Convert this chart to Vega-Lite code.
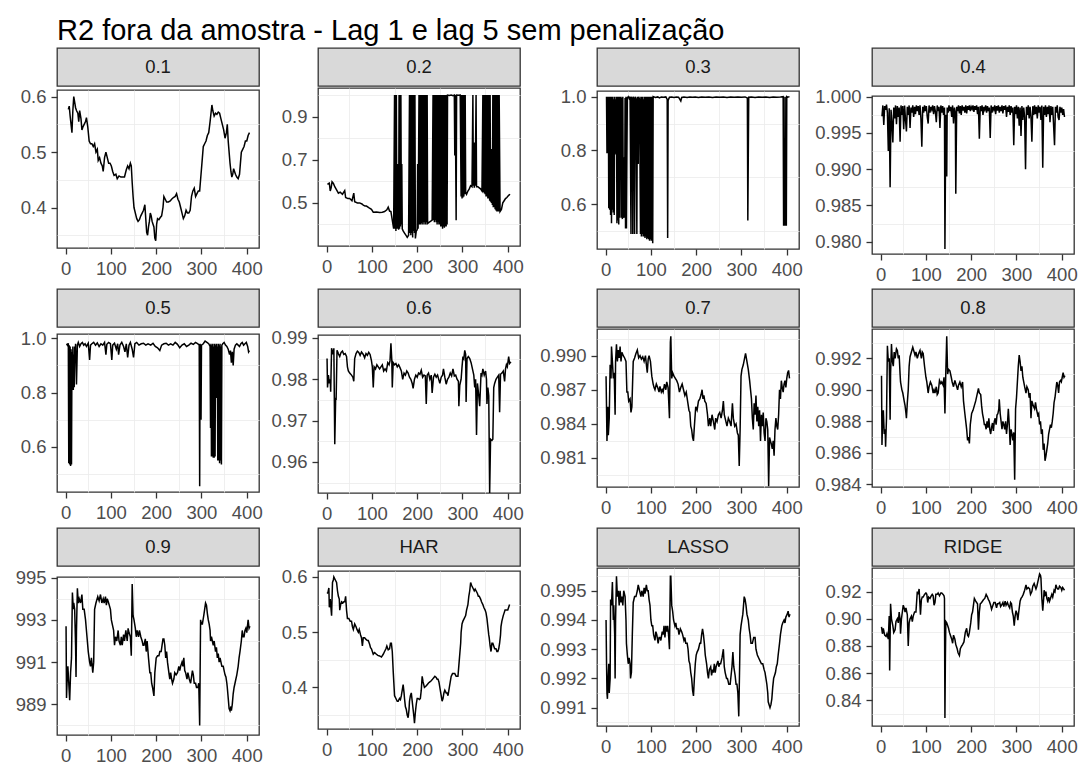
{
"$schema": "https://vega.github.io/schema/vega-lite/v6.json",
"padding": {"left": 14, "top": 17, "right": 5, "bottom": 0},
"title": {"text": "R2 fora da amostra - Lag 1 e lag 5 sem penalização", "anchor": "start", "frame": "group", "fontSize": 29, "fontWeight": "normal", "color": "#000000", "font": "Liberation Sans", "offset": 1},
"columns": 4,
"align": "each",
"spacing": {"row": 3, "column": 7},
"concat": [
{"spacing": 0, "vconcat": [
 {"width": 202, "height": 38, "view": {"fill": "#D9D9D9", "stroke": "#333333", "strokeWidth": 1.3}, "data": {"values": [{"lab": "0.1"}]}, "mark": {"type": "text", "fontSize": 18.5, "color": "#1A1A1A", "baseline": "middle"}, "encoding": {"text": {"field": "lab"}}},
 {"width": 202, "height": 158,
  "data": {"values": [{"t":6,"v":0.577},{"t":8,"v":0.583},{"t":10,"v":0.565},{"t":12,"v":0.55},{"t":14,"v":0.535},{"t":16,"v":0.575},{"t":18,"v":0.6},{"t":20,"v":0.59},{"t":22,"v":0.58},{"t":24,"v":0.575},{"t":27,"v":0.57},{"t":29,"v":0.555},{"t":31,"v":0.575},{"t":34,"v":0.56},{"t":36,"v":0.54},{"t":38,"v":0.545},{"t":41,"v":0.55},{"t":44,"v":0.555},{"t":46,"v":0.562},{"t":49,"v":0.545},{"t":52,"v":0.52},{"t":55,"v":0.515},{"t":58,"v":0.515},{"t":61,"v":0.51},{"t":64,"v":0.515},{"t":67,"v":0.5},{"t":70,"v":0.505},{"t":72,"v":0.485},{"t":75,"v":0.49},{"t":78,"v":0.48},{"t":81,"v":0.475},{"t":83,"v":0.465},{"t":86,"v":0.49},{"t":89,"v":0.5},{"t":92,"v":0.49},{"t":95,"v":0.48},{"t":98,"v":0.48},{"t":101,"v":0.475},{"t":104,"v":0.465},{"t":107,"v":0.458},{"t":111,"v":0.46},{"t":114,"v":0.452},{"t":118,"v":0.457},{"t":122,"v":0.455},{"t":126,"v":0.455},{"t":130,"v":0.455},{"t":134,"v":0.468},{"t":137,"v":0.475},{"t":140,"v":0.47},{"t":143,"v":0.48},{"t":145,"v":0.475},{"t":147,"v":0.445},{"t":149,"v":0.42},{"t":151,"v":0.4},{"t":154,"v":0.39},{"t":157,"v":0.38},{"t":160,"v":0.375},{"t":163,"v":0.378},{"t":166,"v":0.385},{"t":169,"v":0.39},{"t":172,"v":0.395},{"t":175,"v":0.405},{"t":177,"v":0.38},{"t":179,"v":0.355},{"t":181,"v":0.35},{"t":183,"v":0.365},{"t":185,"v":0.375},{"t":187,"v":0.39},{"t":189,"v":0.385},{"t":191,"v":0.375},{"t":193,"v":0.37},{"t":195,"v":0.365},{"t":197,"v":0.345},{"t":199,"v":0.34},{"t":201,"v":0.37},{"t":203,"v":0.38},{"t":206,"v":0.378},{"t":209,"v":0.382},{"t":212,"v":0.385},{"t":215,"v":0.4},{"t":217,"v":0.42},{"t":220,"v":0.415},{"t":223,"v":0.41},{"t":227,"v":0.41},{"t":231,"v":0.412},{"t":234,"v":0.415},{"t":238,"v":0.418},{"t":242,"v":0.42},{"t":245,"v":0.425},{"t":248,"v":0.415},{"t":251,"v":0.41},{"t":254,"v":0.4},{"t":257,"v":0.39},{"t":260,"v":0.38},{"t":263,"v":0.385},{"t":266,"v":0.395},{"t":269,"v":0.39},{"t":272,"v":0.39},{"t":275,"v":0.395},{"t":278,"v":0.42},{"t":281,"v":0.43},{"t":284,"v":0.435},{"t":287,"v":0.42},{"t":290,"v":0.425},{"t":293,"v":0.43},{"t":296,"v":0.43},{"t":298,"v":0.45},{"t":300,"v":0.47},{"t":302,"v":0.49},{"t":304,"v":0.51},{"t":307,"v":0.515},{"t":310,"v":0.52},{"t":313,"v":0.53},{"t":316,"v":0.535},{"t":319,"v":0.555},{"t":321,"v":0.57},{"t":323,"v":0.585},{"t":325,"v":0.575},{"t":328,"v":0.565},{"t":331,"v":0.57},{"t":334,"v":0.568},{"t":337,"v":0.572},{"t":340,"v":0.57},{"t":343,"v":0.56},{"t":346,"v":0.55},{"t":349,"v":0.54},{"t":352,"v":0.525},{"t":355,"v":0.535},{"t":357,"v":0.55},{"t":359,"v":0.52},{"t":361,"v":0.5},{"t":363,"v":0.48},{"t":365,"v":0.465},{"t":367,"v":0.455},{"t":369,"v":0.46},{"t":371,"v":0.47},{"t":373,"v":0.465},{"t":375,"v":0.46},{"t":378,"v":0.455},{"t":381,"v":0.452},{"t":384,"v":0.46},{"t":386,"v":0.48},{"t":388,"v":0.5},{"t":391,"v":0.505},{"t":394,"v":0.51},{"t":397,"v":0.52},{"t":400,"v":0.52},{"t":403,"v":0.53},{"t":406,"v":0.535}]},
  "layer": [
   {"mark": {"type": "line", "strokeOpacity": 0}, "encoding": {"x": {"field": "t", "type": "quantitative", "scale": {"domain": [-19, 427], "nice": false, "zero": false}, "axis": {"orient": "bottom", "values": [50,150,250,350], "grid": true, "gridWidth": 0.8, "labels": false, "ticks": false, "domain": false, "minExtent": 0, "maxExtent": 0}}, "y": {"field": "v", "type": "quantitative", "scale": {"domain": [0.327, 0.612], "nice": false, "zero": false}, "axis": {"orient": "left", "values": [0.35,0.45,0.55], "grid": true, "gridWidth": 0.8, "labels": false, "ticks": false, "domain": false, "minExtent": 0, "maxExtent": 0}}}},
   {"mark": {"type": "line", "color": "#000000", "strokeWidth": 1.5}, "encoding": {"x": {"field": "t", "type": "quantitative", "scale": {"domain": [-19, 427], "nice": false, "zero": false}, "axis": {"orient": "bottom", "values": [0,100,200,300,400], "format": "d"}}, "y": {"field": "v", "type": "quantitative", "scale": {"domain": [0.327, 0.612], "nice": false, "zero": false}, "axis": {"orient": "left", "values": [0.4,0.5,0.6], "format": ".1f"}}}}
  ],
  "resolve": {"axis": {"x": "independent", "y": "independent"}}}
]},
{"spacing": 0, "vconcat": [
 {"width": 202, "height": 38, "view": {"fill": "#D9D9D9", "stroke": "#333333", "strokeWidth": 1.3}, "data": {"values": [{"lab": "0.2"}]}, "mark": {"type": "text", "fontSize": 18.5, "color": "#1A1A1A", "baseline": "middle"}, "encoding": {"text": {"field": "lab"}}},
 {"width": 202, "height": 158,
  "data": {"values": [{"t":2,"v":0.585},{"t":4,"v":0.59},{"t":6,"v":0.592},{"t":8,"v":0.555},{"t":10,"v":0.57},{"t":12,"v":0.598},{"t":15,"v":0.59},{"t":18,"v":0.575},{"t":22,"v":0.56},{"t":26,"v":0.545},{"t":30,"v":0.55},{"t":35,"v":0.54},{"t":40,"v":0.557},{"t":42,"v":0.525},{"t":47,"v":0.52},{"t":51,"v":0.52},{"t":56,"v":0.51},{"t":60,"v":0.545},{"t":62,"v":0.505},{"t":68,"v":0.5},{"t":73,"v":0.5},{"t":78,"v":0.495},{"t":81,"v":0.49},{"t":85,"v":0.485},{"t":88,"v":0.485},{"t":93,"v":0.478},{"t":99,"v":0.47},{"t":103,"v":0.457},{"t":110,"v":0.458},{"t":117,"v":0.455},{"t":123,"v":0.457},{"t":128,"v":0.46},{"t":133,"v":0.468},{"t":136,"v":0.48},{"t":139,"v":0.462},{"t":142,"v":0.46},{"t":145,"v":0.42},{"t":148,"v":0.38},{"t":150,"v":1.0},{"t":151,"v":0.38},{"t":152,"v":1.0},{"t":153,"v":0.37},{"t":154,"v":1.0},{"t":155,"v":0.38},{"t":156,"v":0.68},{"t":157,"v":0.38},{"t":158,"v":0.68},{"t":159,"v":0.375},{"t":160,"v":1.0},{"t":161,"v":0.38},{"t":162,"v":1.0},{"t":163,"v":0.39},{"t":164,"v":1.0},{"t":165,"v":0.4},{"t":166,"v":0.68},{"t":167,"v":0.38},{"t":169,"v":0.37},{"t":172,"v":0.36},{"t":175,"v":0.35},{"t":178,"v":0.34},{"t":181,"v":0.35},{"t":183,"v":1.0},{"t":184,"v":0.36},{"t":185,"v":1.0},{"t":186,"v":0.35},{"t":187,"v":1.0},{"t":188,"v":0.36},{"t":189,"v":1.0},{"t":190,"v":0.34},{"t":191,"v":1.0},{"t":192,"v":0.37},{"t":193,"v":1.0},{"t":194,"v":0.36},{"t":195,"v":1.0},{"t":196,"v":0.335},{"t":198,"v":0.37},{"t":200,"v":0.375},{"t":201,"v":0.68},{"t":202,"v":0.38},{"t":204,"v":1.0},{"t":205,"v":0.4},{"t":206,"v":1.0},{"t":207,"v":0.4},{"t":208,"v":1.0},{"t":209,"v":0.405},{"t":210,"v":1.0},{"t":211,"v":0.4},{"t":212,"v":1.0},{"t":213,"v":0.41},{"t":214,"v":1.0},{"t":215,"v":0.4},{"t":216,"v":1.0},{"t":217,"v":0.41},{"t":218,"v":1.0},{"t":219,"v":0.4},{"t":220,"v":1.0},{"t":221,"v":0.41},{"t":222,"v":1.0},{"t":223,"v":0.405},{"t":226,"v":0.41},{"t":230,"v":0.415},{"t":233,"v":0.42},{"t":235,"v":1.0},{"t":236,"v":0.42},{"t":237,"v":1.0},{"t":238,"v":0.41},{"t":239,"v":1.0},{"t":240,"v":0.42},{"t":241,"v":1.0},{"t":242,"v":0.41},{"t":243,"v":1.0},{"t":244,"v":0.4},{"t":245,"v":1.0},{"t":246,"v":0.41},{"t":247,"v":1.0},{"t":248,"v":0.4},{"t":249,"v":1.0},{"t":250,"v":0.4},{"t":251,"v":1.0},{"t":252,"v":0.39},{"t":253,"v":1.0},{"t":254,"v":0.39},{"t":255,"v":1.0},{"t":256,"v":0.38},{"t":257,"v":1.0},{"t":258,"v":0.39},{"t":259,"v":1.0},{"t":260,"v":0.385},{"t":261,"v":1.0},{"t":262,"v":0.39},{"t":263,"v":1.0},{"t":264,"v":0.39},{"t":265,"v":1.0},{"t":266,"v":0.4},{"t":267,"v":1.0},{"t":271,"v":0.998},{"t":275,"v":1.0},{"t":279,"v":0.997},{"t":282,"v":1.0},{"t":283,"v":0.72},{"t":284,"v":1.0},{"t":286,"v":0.42},{"t":287,"v":1.0},{"t":291,"v":0.999},{"t":295,"v":1.0},{"t":297,"v":0.53},{"t":298,"v":1.0},{"t":299,"v":0.52},{"t":300,"v":1.0},{"t":301,"v":0.525},{"t":302,"v":1.0},{"t":303,"v":0.53},{"t":304,"v":1.0},{"t":305,"v":0.54},{"t":306,"v":1.0},{"t":307,"v":0.55},{"t":309,"v":0.54},{"t":312,"v":0.555},{"t":315,"v":0.565},{"t":318,"v":0.58},{"t":321,"v":0.575},{"t":323,"v":1.0},{"t":324,"v":0.58},{"t":325,"v":0.78},{"t":326,"v":0.57},{"t":327,"v":0.78},{"t":328,"v":0.58},{"t":329,"v":0.78},{"t":330,"v":1.0},{"t":331,"v":0.575},{"t":334,"v":0.575},{"t":337,"v":0.57},{"t":340,"v":0.565},{"t":343,"v":0.555},{"t":345,"v":1.0},{"t":346,"v":0.55},{"t":347,"v":1.0},{"t":348,"v":0.545},{"t":349,"v":1.0},{"t":350,"v":0.54},{"t":351,"v":1.0},{"t":352,"v":0.53},{"t":353,"v":1.0},{"t":354,"v":0.53},{"t":355,"v":1.0},{"t":356,"v":0.52},{"t":357,"v":1.0},{"t":358,"v":0.52},{"t":359,"v":1.0},{"t":360,"v":0.51},{"t":361,"v":1.0},{"t":362,"v":0.505},{"t":363,"v":0.75},{"t":364,"v":0.5},{"t":365,"v":0.75},{"t":366,"v":0.49},{"t":367,"v":1.0},{"t":368,"v":0.48},{"t":369,"v":1.0},{"t":370,"v":0.48},{"t":371,"v":1.0},{"t":372,"v":0.47},{"t":373,"v":1.0},{"t":374,"v":0.465},{"t":375,"v":1.0},{"t":376,"v":0.46},{"t":377,"v":1.0},{"t":378,"v":0.46},{"t":379,"v":1.0},{"t":380,"v":0.46},{"t":381,"v":1.0},{"t":383,"v":0.46},{"t":386,"v":0.47},{"t":389,"v":0.5},{"t":392,"v":0.51},{"t":395,"v":0.52},{"t":398,"v":0.525},{"t":402,"v":0.535},{"t":405,"v":0.54}]},
  "layer": [
   {"mark": {"type": "line", "strokeOpacity": 0}, "encoding": {"x": {"field": "t", "type": "quantitative", "scale": {"domain": [-19, 427], "nice": false, "zero": false}, "axis": {"orient": "bottom", "values": [50,150,250,350], "grid": true, "gridWidth": 0.8, "labels": false, "ticks": false, "domain": false, "minExtent": 0, "maxExtent": 0}}, "y": {"field": "v", "type": "quantitative", "scale": {"domain": [0.300, 1.033], "nice": false, "zero": false}, "axis": {"orient": "left", "values": [0.4,0.6,0.8,1.0], "grid": true, "gridWidth": 0.8, "labels": false, "ticks": false, "domain": false, "minExtent": 0, "maxExtent": 0}}}},
   {"mark": {"type": "line", "color": "#000000", "strokeWidth": 1.5}, "encoding": {"x": {"field": "t", "type": "quantitative", "scale": {"domain": [-19, 427], "nice": false, "zero": false}, "axis": {"orient": "bottom", "values": [0,100,200,300,400], "format": "d"}}, "y": {"field": "v", "type": "quantitative", "scale": {"domain": [0.300, 1.033], "nice": false, "zero": false}, "axis": {"orient": "left", "values": [0.5,0.7,0.9], "format": ".1f"}}}}
  ],
  "resolve": {"axis": {"x": "independent", "y": "independent"}}}
]},
{"spacing": 0, "vconcat": [
 {"width": 202, "height": 38, "view": {"fill": "#D9D9D9", "stroke": "#333333", "strokeWidth": 1.3}, "data": {"values": [{"lab": "0.3"}]}, "mark": {"type": "text", "fontSize": 18.5, "color": "#1A1A1A", "baseline": "middle"}, "encoding": {"text": {"field": "lab"}}},
 {"width": 202, "height": 158,
  "data": {"values": [{"t":2,"v":1.0},{"t":3,"v":0.79},{"t":4,"v":1.0},{"t":5,"v":0.79},{"t":6,"v":1.0},{"t":7,"v":0.585},{"t":8,"v":1.0},{"t":9,"v":0.58},{"t":10,"v":1.0},{"t":11,"v":0.56},{"t":12,"v":1.0},{"t":13,"v":0.53},{"t":14,"v":1.0},{"t":15,"v":0.58},{"t":16,"v":1.0},{"t":17,"v":0.57},{"t":18,"v":0.99},{"t":19,"v":0.56},{"t":20,"v":1.0},{"t":21,"v":0.79},{"t":22,"v":0.99},{"t":23,"v":0.785},{"t":24,"v":1.0},{"t":25,"v":0.53},{"t":26,"v":1.0},{"t":27,"v":0.54},{"t":28,"v":1.0},{"t":29,"v":0.525},{"t":30,"v":1.0},{"t":31,"v":0.55},{"t":32,"v":1.0},{"t":33,"v":0.765},{"t":34,"v":1.0},{"t":35,"v":0.55},{"t":36,"v":0.995},{"t":37,"v":0.545},{"t":38,"v":1.0},{"t":39,"v":0.555},{"t":40,"v":0.55},{"t":41,"v":0.775},{"t":42,"v":0.55},{"t":43,"v":0.995},{"t":44,"v":0.51},{"t":45,"v":1.0},{"t":46,"v":0.51},{"t":47,"v":0.78},{"t":48,"v":0.995},{"t":50,"v":1.0},{"t":52,"v":0.993},{"t":54,"v":1.0},{"t":56,"v":0.49},{"t":57,"v":1.0},{"t":59,"v":0.985},{"t":60,"v":0.49},{"t":61,"v":1.0},{"t":63,"v":0.98},{"t":64,"v":0.49},{"t":65,"v":1.0},{"t":67,"v":0.99},{"t":69,"v":0.49},{"t":70,"v":1.0},{"t":72,"v":0.75},{"t":73,"v":1.0},{"t":75,"v":0.99},{"t":77,"v":0.49},{"t":78,"v":1.0},{"t":79,"v":0.48},{"t":80,"v":1.0},{"t":81,"v":0.49},{"t":82,"v":1.0},{"t":83,"v":0.48},{"t":84,"v":0.99},{"t":85,"v":0.48},{"t":86,"v":1.0},{"t":87,"v":0.475},{"t":88,"v":1.0},{"t":89,"v":0.48},{"t":90,"v":1.0},{"t":91,"v":0.47},{"t":92,"v":1.0},{"t":93,"v":0.475},{"t":94,"v":1.0},{"t":95,"v":0.47},{"t":96,"v":1.0},{"t":97,"v":0.465},{"t":98,"v":1.0},{"t":99,"v":0.47},{"t":100,"v":1.0},{"t":101,"v":0.465},{"t":102,"v":1.0},{"t":104,"v":0.455},{"t":105,"v":1.0},{"t":110,"v":0.997},{"t":115,"v":0.999},{"t":119,"v":0.995},{"t":123,"v":0.999},{"t":128,"v":0.998},{"t":133,"v":0.999},{"t":136,"v":0.99},{"t":137,"v":0.475},{"t":138,"v":0.985},{"t":139,"v":0.99},{"t":141,"v":0.998},{"t":146,"v":0.999},{"t":151,"v":0.997},{"t":156,"v":0.999},{"t":161,"v":0.998},{"t":166,"v":0.984},{"t":168,"v":0.997},{"t":173,"v":0.999},{"t":180,"v":0.997},{"t":186,"v":0.999},{"t":192,"v":0.998},{"t":198,"v":0.999},{"t":205,"v":0.997},{"t":212,"v":0.999},{"t":220,"v":0.998},{"t":228,"v":0.999},{"t":236,"v":0.997},{"t":244,"v":0.999},{"t":252,"v":0.998},{"t":260,"v":0.999},{"t":268,"v":0.997},{"t":276,"v":0.999},{"t":284,"v":0.998},{"t":292,"v":0.999},{"t":300,"v":0.998},{"t":308,"v":0.999},{"t":313,"v":0.995},{"t":314,"v":0.54},{"t":316,"v":0.998},{"t":322,"v":0.999},{"t":330,"v":0.997},{"t":338,"v":0.999},{"t":346,"v":0.998},{"t":354,"v":0.999},{"t":362,"v":0.997},{"t":370,"v":0.999},{"t":378,"v":0.998},{"t":386,"v":0.999},{"t":392,"v":1.0},{"t":393,"v":0.52},{"t":394,"v":1.0},{"t":395,"v":0.52},{"t":396,"v":0.75},{"t":397,"v":0.52},{"t":398,"v":1.0},{"t":399,"v":0.52},{"t":400,"v":1.0},{"t":402,"v":0.998},{"t":406,"v":1.0}]},
  "layer": [
   {"mark": {"type": "line", "strokeOpacity": 0}, "encoding": {"x": {"field": "t", "type": "quantitative", "scale": {"domain": [-19, 427], "nice": false, "zero": false}, "axis": {"orient": "bottom", "values": [50,150,250,350], "grid": true, "gridWidth": 0.8, "labels": false, "ticks": false, "domain": false, "minExtent": 0, "maxExtent": 0}}, "y": {"field": "v", "type": "quantitative", "scale": {"domain": [0.434, 1.021], "nice": false, "zero": false}, "axis": {"orient": "left", "values": [0.5,0.7,0.9], "grid": true, "gridWidth": 0.8, "labels": false, "ticks": false, "domain": false, "minExtent": 0, "maxExtent": 0}}}},
   {"mark": {"type": "line", "color": "#000000", "strokeWidth": 1.5}, "encoding": {"x": {"field": "t", "type": "quantitative", "scale": {"domain": [-19, 427], "nice": false, "zero": false}, "axis": {"orient": "bottom", "values": [0,100,200,300,400], "format": "d"}}, "y": {"field": "v", "type": "quantitative", "scale": {"domain": [0.434, 1.021], "nice": false, "zero": false}, "axis": {"orient": "left", "values": [0.6,0.8,1.0], "format": ".1f", "minExtent": 65}}}}
  ],
  "resolve": {"axis": {"x": "independent", "y": "independent"}}}
]},
{"spacing": 0, "vconcat": [
 {"width": 202, "height": 38, "view": {"fill": "#D9D9D9", "stroke": "#333333", "strokeWidth": 1.3}, "data": {"values": [{"lab": "0.4"}]}, "mark": {"type": "text", "fontSize": 18.5, "color": "#1A1A1A", "baseline": "middle"}, "encoding": {"text": {"field": "lab"}}},
 {"width": 202, "height": 158,
  "data": {"values": [{"t":3,"v":0.9973},{"t":5,"v":0.9988},{"t":7,"v":0.9961},{"t":9,"v":0.9987},{"t":11,"v":0.9982},{"t":13,"v":0.9989},{"t":15,"v":0.9978},{"t":17,"v":0.9925},{"t":19,"v":0.9984},{"t":21,"v":0.9875},{"t":23,"v":0.9982},{"t":25,"v":0.9965},{"t":27,"v":0.9937},{"t":29,"v":0.9985},{"t":31,"v":0.997},{"t":33,"v":0.9988},{"t":35,"v":0.9962},{"t":37,"v":0.9987},{"t":39,"v":0.9972},{"t":41,"v":0.9985},{"t":43,"v":0.9938},{"t":45,"v":0.9988},{"t":47,"v":0.9975},{"t":49,"v":0.9987},{"t":51,"v":0.9955},{"t":53,"v":0.9988},{"t":55,"v":0.9968},{"t":57,"v":0.9952},{"t":59,"v":0.9986},{"t":61,"v":0.9975},{"t":63,"v":0.9988},{"t":65,"v":0.9957},{"t":67,"v":0.9985},{"t":69,"v":0.9978},{"t":71,"v":0.9988},{"t":73,"v":0.9972},{"t":75,"v":0.9986},{"t":77,"v":0.9976},{"t":79,"v":0.9988},{"t":81,"v":0.998},{"t":83,"v":0.9987},{"t":85,"v":0.9975},{"t":87,"v":0.9988},{"t":89,"v":0.997},{"t":91,"v":0.9931},{"t":93,"v":0.9986},{"t":95,"v":0.9978},{"t":97,"v":0.9988},{"t":99,"v":0.998},{"t":101,"v":0.9987},{"t":103,"v":0.9972},{"t":105,"v":0.9963},{"t":107,"v":0.9988},{"t":109,"v":0.9978},{"t":111,"v":0.9986},{"t":113,"v":0.9982},{"t":115,"v":0.9988},{"t":117,"v":0.9976},{"t":119,"v":0.9987},{"t":121,"v":0.9979},{"t":123,"v":0.9965},{"t":125,"v":0.9988},{"t":127,"v":0.998},{"t":129,"v":0.9986},{"t":131,"v":0.9957},{"t":133,"v":0.9988},{"t":135,"v":0.9978},{"t":137,"v":0.9987},{"t":139,"v":0.9975},{"t":141,"v":0.9985},{"t":142,"v":0.979},{"t":144,"v":0.9975},{"t":146,"v":0.989},{"t":147,"v":0.9985},{"t":149,"v":0.9978},{"t":151,"v":0.9988},{"t":153,"v":0.998},{"t":155,"v":0.9986},{"t":157,"v":0.9972},{"t":159,"v":0.9988},{"t":161,"v":0.9963},{"t":163,"v":0.9985},{"t":165,"v":0.9978},{"t":166,"v":0.9866},{"t":168,"v":0.9986},{"t":170,"v":0.998},{"t":172,"v":0.9988},{"t":174,"v":0.9977},{"t":176,"v":0.9987},{"t":178,"v":0.9975},{"t":180,"v":0.9988},{"t":182,"v":0.9981},{"t":184,"v":0.9986},{"t":186,"v":0.9978},{"t":188,"v":0.9988},{"t":190,"v":0.9977},{"t":192,"v":0.9987},{"t":194,"v":0.9982},{"t":196,"v":0.9988},{"t":198,"v":0.998},{"t":200,"v":0.9986},{"t":202,"v":0.9983},{"t":204,"v":0.9988},{"t":206,"v":0.9979},{"t":208,"v":0.9987},{"t":210,"v":0.9982},{"t":212,"v":0.9988},{"t":214,"v":0.9976},{"t":216,"v":0.9986},{"t":218,"v":0.9942},{"t":220,"v":0.9987},{"t":222,"v":0.998},{"t":224,"v":0.9988},{"t":226,"v":0.9975},{"t":228,"v":0.9986},{"t":230,"v":0.9982},{"t":232,"v":0.9988},{"t":234,"v":0.9978},{"t":236,"v":0.9987},{"t":238,"v":0.998},{"t":240,"v":0.9985},{"t":242,"v":0.9943},{"t":244,"v":0.9988},{"t":246,"v":0.9978},{"t":248,"v":0.9986},{"t":250,"v":0.9982},{"t":252,"v":0.9988},{"t":254,"v":0.9976},{"t":256,"v":0.9987},{"t":258,"v":0.9981},{"t":260,"v":0.9988},{"t":262,"v":0.9978},{"t":264,"v":0.9986},{"t":266,"v":0.998},{"t":268,"v":0.9988},{"t":270,"v":0.9977},{"t":272,"v":0.9987},{"t":274,"v":0.9982},{"t":276,"v":0.9988},{"t":278,"v":0.9972},{"t":280,"v":0.9986},{"t":282,"v":0.9979},{"t":284,"v":0.9988},{"t":286,"v":0.9975},{"t":288,"v":0.9987},{"t":290,"v":0.9978},{"t":292,"v":0.9985},{"t":294,"v":0.9933},{"t":296,"v":0.9986},{"t":298,"v":0.9976},{"t":300,"v":0.9988},{"t":302,"v":0.997},{"t":304,"v":0.9986},{"t":306,"v":0.996},{"t":308,"v":0.9985},{"t":310,"v":0.9946},{"t":312,"v":0.9987},{"t":314,"v":0.9968},{"t":316,"v":0.9985},{"t":318,"v":0.9972},{"t":320,"v":0.99},{"t":322,"v":0.9986},{"t":324,"v":0.9975},{"t":326,"v":0.9988},{"t":328,"v":0.997},{"t":330,"v":0.9986},{"t":332,"v":0.9972},{"t":334,"v":0.9938},{"t":336,"v":0.9987},{"t":338,"v":0.9975},{"t":340,"v":0.9988},{"t":342,"v":0.9976},{"t":344,"v":0.9986},{"t":346,"v":0.997},{"t":348,"v":0.9988},{"t":350,"v":0.9978},{"t":352,"v":0.9986},{"t":354,"v":0.9968},{"t":356,"v":0.9988},{"t":358,"v":0.9902},{"t":360,"v":0.9986},{"t":362,"v":0.9975},{"t":364,"v":0.9988},{"t":366,"v":0.9972},{"t":368,"v":0.9986},{"t":370,"v":0.9976},{"t":372,"v":0.9988},{"t":374,"v":0.9965},{"t":376,"v":0.9987},{"t":378,"v":0.9975},{"t":380,"v":0.9986},{"t":382,"v":0.996},{"t":384,"v":0.9933},{"t":386,"v":0.9986},{"t":388,"v":0.9978},{"t":390,"v":0.9988},{"t":392,"v":0.9972},{"t":394,"v":0.9968},{"t":396,"v":0.9986},{"t":398,"v":0.9978},{"t":400,"v":0.9985},{"t":402,"v":0.9975},{"t":404,"v":0.9983},{"t":406,"v":0.9972}]},
  "layer": [
   {"mark": {"type": "line", "strokeOpacity": 0}, "encoding": {"x": {"field": "t", "type": "quantitative", "scale": {"domain": [-19, 427], "nice": false, "zero": false}, "axis": {"orient": "bottom", "values": [50,150,250,350], "grid": true, "gridWidth": 0.8, "labels": false, "ticks": false, "domain": false, "minExtent": 0, "maxExtent": 0}}, "y": {"field": "v", "type": "quantitative", "scale": {"domain": [0.9783, 1.0001], "nice": false, "zero": false}, "axis": {"orient": "left", "values": [0.9825,0.9875,0.9925,0.9975], "grid": true, "gridWidth": 0.8, "labels": false, "ticks": false, "domain": false, "minExtent": 0, "maxExtent": 0}}}},
   {"mark": {"type": "line", "color": "#000000", "strokeWidth": 1.5}, "encoding": {"x": {"field": "t", "type": "quantitative", "scale": {"domain": [-19, 427], "nice": false, "zero": false}, "axis": {"orient": "bottom", "values": [0,100,200,300,400], "format": "d"}}, "y": {"field": "v", "type": "quantitative", "scale": {"domain": [0.9783, 1.0001], "nice": false, "zero": false}, "axis": {"orient": "left", "values": [0.98,0.985,0.99,0.995,1.0], "format": ".3f", "minExtent": 61}}}}
  ],
  "resolve": {"axis": {"x": "independent", "y": "independent"}}}
]},
{"spacing": 0, "vconcat": [
 {"width": 202, "height": 38, "view": {"fill": "#D9D9D9", "stroke": "#333333", "strokeWidth": 1.3}, "data": {"values": [{"lab": "0.5"}]}, "mark": {"type": "text", "fontSize": 18.5, "color": "#1A1A1A", "baseline": "middle"}, "encoding": {"text": {"field": "lab"}}},
 {"width": 202, "height": 158,
  "data": {"values": [{"t":2,"v":0.98},{"t":4,"v":0.975},{"t":6,"v":0.982},{"t":7,"v":0.54},{"t":8,"v":0.975},{"t":9,"v":0.535},{"t":10,"v":0.97},{"t":11,"v":0.53},{"t":12,"v":0.96},{"t":13,"v":0.535},{"t":14,"v":0.95},{"t":15,"v":0.81},{"t":16,"v":0.97},{"t":17,"v":0.81},{"t":18,"v":0.94},{"t":19,"v":0.82},{"t":20,"v":0.97},{"t":21,"v":0.915},{"t":22,"v":0.98},{"t":24,"v":0.83},{"t":26,"v":0.975},{"t":28,"v":0.985},{"t":31,"v":0.97},{"t":34,"v":0.98},{"t":37,"v":0.985},{"t":40,"v":0.975},{"t":43,"v":0.98},{"t":46,"v":0.97},{"t":50,"v":0.982},{"t":53,"v":0.92},{"t":55,"v":0.975},{"t":58,"v":0.98},{"t":62,"v":0.985},{"t":66,"v":0.975},{"t":70,"v":0.983},{"t":74,"v":0.97},{"t":78,"v":0.98},{"t":82,"v":0.975},{"t":86,"v":0.985},{"t":89,"v":0.94},{"t":91,"v":0.978},{"t":95,"v":0.985},{"t":99,"v":0.98},{"t":102,"v":0.92},{"t":104,"v":0.975},{"t":108,"v":0.982},{"t":112,"v":0.96},{"t":115,"v":0.98},{"t":117,"v":0.94},{"t":120,"v":0.975},{"t":124,"v":0.985},{"t":128,"v":0.97},{"t":131,"v":0.95},{"t":134,"v":0.98},{"t":137,"v":0.93},{"t":140,"v":0.975},{"t":143,"v":0.985},{"t":147,"v":0.96},{"t":150,"v":0.93},{"t":153,"v":0.98},{"t":157,"v":0.985},{"t":162,"v":0.975},{"t":167,"v":0.98},{"t":172,"v":0.982},{"t":177,"v":0.975},{"t":182,"v":0.98},{"t":188,"v":0.975},{"t":193,"v":0.982},{"t":198,"v":0.97},{"t":203,"v":0.965},{"t":208,"v":0.955},{"t":212,"v":0.975},{"t":217,"v":0.98},{"t":222,"v":0.982},{"t":227,"v":0.975},{"t":232,"v":0.98},{"t":237,"v":0.975},{"t":242,"v":0.985},{"t":247,"v":0.978},{"t":252,"v":0.965},{"t":257,"v":0.975},{"t":262,"v":0.98},{"t":267,"v":0.97},{"t":272,"v":0.975},{"t":277,"v":0.982},{"t":282,"v":0.978},{"t":287,"v":0.985},{"t":292,"v":0.98},{"t":295,"v":0.975},{"t":296,"v":0.455},{"t":297,"v":0.98},{"t":299,"v":0.7},{"t":300,"v":0.975},{"t":304,"v":0.98},{"t":308,"v":0.99},{"t":312,"v":0.985},{"t":316,"v":0.98},{"t":319,"v":0.97},{"t":320,"v":0.67},{"t":321,"v":0.98},{"t":322,"v":0.565},{"t":323,"v":0.975},{"t":324,"v":0.565},{"t":325,"v":0.98},{"t":326,"v":0.56},{"t":327,"v":0.97},{"t":328,"v":0.56},{"t":329,"v":0.98},{"t":330,"v":0.565},{"t":331,"v":0.975},{"t":332,"v":0.78},{"t":333,"v":0.98},{"t":334,"v":0.78},{"t":335,"v":0.97},{"t":336,"v":0.55},{"t":337,"v":0.98},{"t":338,"v":0.55},{"t":339,"v":0.975},{"t":340,"v":0.54},{"t":341,"v":0.98},{"t":342,"v":0.55},{"t":343,"v":0.97},{"t":344,"v":0.535},{"t":345,"v":0.975},{"t":347,"v":0.98},{"t":350,"v":0.985},{"t":353,"v":0.975},{"t":356,"v":0.97},{"t":359,"v":0.96},{"t":362,"v":0.94},{"t":364,"v":0.955},{"t":366,"v":0.91},{"t":368,"v":0.95},{"t":370,"v":0.9},{"t":372,"v":0.96},{"t":375,"v":0.975},{"t":378,"v":0.98},{"t":381,"v":0.975},{"t":384,"v":0.97},{"t":387,"v":0.98},{"t":390,"v":0.985},{"t":393,"v":0.975},{"t":396,"v":0.98},{"t":399,"v":0.985},{"t":402,"v":0.97},{"t":404,"v":0.95},{"t":406,"v":0.955}]},
  "layer": [
   {"mark": {"type": "line", "strokeOpacity": 0}, "encoding": {"x": {"field": "t", "type": "quantitative", "scale": {"domain": [-19, 427], "nice": false, "zero": false}, "axis": {"orient": "bottom", "values": [50,150,250,350], "grid": true, "gridWidth": 0.8, "labels": false, "ticks": false, "domain": false, "minExtent": 0, "maxExtent": 0}}, "y": {"field": "v", "type": "quantitative", "scale": {"domain": [0.434, 1.016], "nice": false, "zero": false}, "axis": {"orient": "left", "values": [0.5,0.7,0.9], "grid": true, "gridWidth": 0.8, "labels": false, "ticks": false, "domain": false, "minExtent": 0, "maxExtent": 0}}}},
   {"mark": {"type": "line", "color": "#000000", "strokeWidth": 1.5}, "encoding": {"x": {"field": "t", "type": "quantitative", "scale": {"domain": [-19, 427], "nice": false, "zero": false}, "axis": {"orient": "bottom", "values": [0,100,200,300,400], "format": "d"}}, "y": {"field": "v", "type": "quantitative", "scale": {"domain": [0.434, 1.016], "nice": false, "zero": false}, "axis": {"orient": "left", "values": [0.6,0.8,1.0], "format": ".1f"}}}}
  ],
  "resolve": {"axis": {"x": "independent", "y": "independent"}}}
]},
{"spacing": 0, "vconcat": [
 {"width": 202, "height": 38, "view": {"fill": "#D9D9D9", "stroke": "#333333", "strokeWidth": 1.3}, "data": {"values": [{"lab": "0.6"}]}, "mark": {"type": "text", "fontSize": 18.5, "color": "#1A1A1A", "baseline": "middle"}, "encoding": {"text": {"field": "lab"}}},
 {"width": 202, "height": 158,
  "data": {"values": [{"t":1,"v":0.985},{"t":2,"v":0.978},{"t":4,"v":0.981},{"t":6,"v":0.979},{"t":8,"v":0.98},{"t":9,"v":0.977},{"t":11,"v":0.9875},{"t":12,"v":0.987},{"t":14,"v":0.986},{"t":16,"v":0.9875},{"t":18,"v":0.9643},{"t":20,"v":0.9755},{"t":21,"v":0.975},{"t":23,"v":0.987},{"t":26,"v":0.9862},{"t":29,"v":0.9855},{"t":32,"v":0.9865},{"t":35,"v":0.9868},{"t":38,"v":0.986},{"t":41,"v":0.9862},{"t":44,"v":0.9855},{"t":46,"v":0.983},{"t":48,"v":0.982},{"t":51,"v":0.9815},{"t":55,"v":0.981},{"t":58,"v":0.9805},{"t":60,"v":0.9795},{"t":62,"v":0.985},{"t":65,"v":0.9862},{"t":68,"v":0.9868},{"t":71,"v":0.9865},{"t":74,"v":0.9858},{"t":77,"v":0.9866},{"t":81,"v":0.986},{"t":84,"v":0.9852},{"t":87,"v":0.9862},{"t":90,"v":0.9858},{"t":93,"v":0.9865},{"t":96,"v":0.986},{"t":99,"v":0.9845},{"t":101,"v":0.983},{"t":103,"v":0.978},{"t":105,"v":0.983},{"t":108,"v":0.9825},{"t":111,"v":0.9835},{"t":114,"v":0.983},{"t":117,"v":0.9825},{"t":120,"v":0.983},{"t":123,"v":0.9835},{"t":126,"v":0.982},{"t":129,"v":0.9825},{"t":132,"v":0.982},{"t":135,"v":0.984},{"t":138,"v":0.9835},{"t":140,"v":0.9845},{"t":142,"v":0.9887},{"t":144,"v":0.9845},{"t":145,"v":0.978},{"t":147,"v":0.984},{"t":150,"v":0.9835},{"t":153,"v":0.9838},{"t":156,"v":0.983},{"t":159,"v":0.9835},{"t":162,"v":0.9828},{"t":165,"v":0.982},{"t":168,"v":0.98},{"t":171,"v":0.9815},{"t":174,"v":0.981},{"t":177,"v":0.982},{"t":180,"v":0.9815},{"t":183,"v":0.9805},{"t":186,"v":0.98},{"t":189,"v":0.979},{"t":191,"v":0.9778},{"t":194,"v":0.98},{"t":197,"v":0.981},{"t":200,"v":0.9805},{"t":203,"v":0.9815},{"t":206,"v":0.9812},{"t":209,"v":0.9822},{"t":212,"v":0.9805},{"t":215,"v":0.981},{"t":218,"v":0.9808},{"t":220,"v":0.974},{"t":222,"v":0.981},{"t":225,"v":0.9815},{"t":228,"v":0.98},{"t":231,"v":0.981},{"t":233,"v":0.9767},{"t":236,"v":0.9805},{"t":239,"v":0.9812},{"t":242,"v":0.9805},{"t":245,"v":0.981},{"t":248,"v":0.9798},{"t":250,"v":0.979},{"t":253,"v":0.9805},{"t":256,"v":0.981},{"t":258,"v":0.9825},{"t":261,"v":0.9805},{"t":264,"v":0.9788},{"t":267,"v":0.98},{"t":270,"v":0.9805},{"t":273,"v":0.9815},{"t":276,"v":0.9808},{"t":279,"v":0.9825},{"t":282,"v":0.9808},{"t":285,"v":0.981},{"t":288,"v":0.98},{"t":291,"v":0.9795},{"t":292,"v":0.9735},{"t":294,"v":0.9785},{"t":297,"v":0.98},{"t":299,"v":0.983},{"t":301,"v":0.9855},{"t":303,"v":0.985},{"t":305,"v":0.987},{"t":307,"v":0.986},{"t":308,"v":0.9745},{"t":310,"v":0.985},{"t":313,"v":0.9855},{"t":316,"v":0.985},{"t":319,"v":0.984},{"t":322,"v":0.9825},{"t":325,"v":0.981},{"t":327,"v":0.978},{"t":329,"v":0.98},{"t":331,"v":0.9665},{"t":333,"v":0.979},{"t":336,"v":0.976},{"t":338,"v":0.9735},{"t":341,"v":0.9815},{"t":343,"v":0.981},{"t":345,"v":0.9825},{"t":348,"v":0.981},{"t":351,"v":0.982},{"t":353,"v":0.98},{"t":354,"v":0.974},{"t":356,"v":0.978},{"t":358,"v":0.976},{"t":360,"v":0.9525},{"t":362,"v":0.9655},{"t":365,"v":0.9652},{"t":367,"v":0.9655},{"t":369,"v":0.978},{"t":371,"v":0.979},{"t":374,"v":0.98},{"t":377,"v":0.9805},{"t":380,"v":0.981},{"t":382,"v":0.972},{"t":384,"v":0.9812},{"t":387,"v":0.9815},{"t":390,"v":0.982},{"t":393,"v":0.9795},{"t":395,"v":0.9825},{"t":397,"v":0.9835},{"t":399,"v":0.983},{"t":402,"v":0.9855},{"t":404,"v":0.9838},{"t":407,"v":0.9842}]},
  "layer": [
   {"mark": {"type": "line", "strokeOpacity": 0}, "encoding": {"x": {"field": "t", "type": "quantitative", "scale": {"domain": [-19, 427], "nice": false, "zero": false}, "axis": {"orient": "bottom", "values": [50,150,250,350], "grid": true, "gridWidth": 0.8, "labels": false, "ticks": false, "domain": false, "minExtent": 0, "maxExtent": 0}}, "y": {"field": "v", "type": "quantitative", "scale": {"domain": [0.9525, 0.9907], "nice": false, "zero": false}, "axis": {"orient": "left", "values": [0.955,0.965,0.975,0.985], "grid": true, "gridWidth": 0.8, "labels": false, "ticks": false, "domain": false, "minExtent": 0, "maxExtent": 0}}}},
   {"mark": {"type": "line", "color": "#000000", "strokeWidth": 1.5}, "encoding": {"x": {"field": "t", "type": "quantitative", "scale": {"domain": [-19, 427], "nice": false, "zero": false}, "axis": {"orient": "bottom", "values": [0,100,200,300,400], "format": "d"}}, "y": {"field": "v", "type": "quantitative", "scale": {"domain": [0.9525, 0.9907], "nice": false, "zero": false}, "axis": {"orient": "left", "values": [0.96,0.97,0.98,0.99], "format": ".2f"}}}}
  ],
  "resolve": {"axis": {"x": "independent", "y": "independent"}}}
]},
{"spacing": 0, "vconcat": [
 {"width": 202, "height": 38, "view": {"fill": "#D9D9D9", "stroke": "#333333", "strokeWidth": 1.3}, "data": {"values": [{"lab": "0.7"}]}, "mark": {"type": "text", "fontSize": 18.5, "color": "#1A1A1A", "baseline": "middle"}, "encoding": {"text": {"field": "lab"}}},
 {"width": 202, "height": 158,
  "data": {"values": [{"t":1,"v":0.9882},{"t":2,"v":0.9855},{"t":3,"v":0.9825},{"t":5,"v":0.9855},{"t":6,"v":0.983},{"t":8,"v":0.9845},{"t":10,"v":0.9892},{"t":12,"v":0.988},{"t":13,"v":0.9908},{"t":15,"v":0.9895},{"t":17,"v":0.988},{"t":19,"v":0.9885},{"t":21,"v":0.9848},{"t":22,"v":0.9895},{"t":24,"v":0.991},{"t":26,"v":0.9895},{"t":28,"v":0.9905},{"t":30,"v":0.9898},{"t":32,"v":0.9908},{"t":34,"v":0.9895},{"t":36,"v":0.9903},{"t":39,"v":0.99},{"t":42,"v":0.9898},{"t":45,"v":0.9895},{"t":47,"v":0.9868},{"t":49,"v":0.9868},{"t":51,"v":0.986},{"t":54,"v":0.9862},{"t":56,"v":0.985},{"t":58,"v":0.9855},{"t":61,"v":0.9895},{"t":64,"v":0.9898},{"t":67,"v":0.9902},{"t":70,"v":0.9905},{"t":73,"v":0.9898},{"t":76,"v":0.99},{"t":79,"v":0.9897},{"t":82,"v":0.9899},{"t":85,"v":0.9895},{"t":88,"v":0.99},{"t":90,"v":0.9892},{"t":92,"v":0.9885},{"t":94,"v":0.9897},{"t":96,"v":0.99},{"t":99,"v":0.9895},{"t":102,"v":0.9882},{"t":105,"v":0.9875},{"t":107,"v":0.9872},{"t":109,"v":0.987},{"t":112,"v":0.9875},{"t":115,"v":0.9872},{"t":118,"v":0.9868},{"t":120,"v":0.9873},{"t":123,"v":0.9868},{"t":125,"v":0.987},{"t":127,"v":0.9868},{"t":130,"v":0.9875},{"t":133,"v":0.987},{"t":135,"v":0.9877},{"t":138,"v":0.9872},{"t":141,"v":0.9845},{"t":143,"v":0.9912},{"t":144,"v":0.9917},{"t":146,"v":0.988},{"t":148,"v":0.9885},{"t":151,"v":0.9882},{"t":154,"v":0.988},{"t":157,"v":0.9878},{"t":160,"v":0.9875},{"t":163,"v":0.9868},{"t":166,"v":0.9872},{"t":169,"v":0.9875},{"t":172,"v":0.987},{"t":175,"v":0.9865},{"t":178,"v":0.9868},{"t":181,"v":0.986},{"t":184,"v":0.9852},{"t":186,"v":0.985},{"t":188,"v":0.9838},{"t":190,"v":0.9835},{"t":192,"v":0.9828},{"t":194,"v":0.9825},{"t":196,"v":0.9838},{"t":199,"v":0.9855},{"t":202,"v":0.9852},{"t":205,"v":0.986},{"t":208,"v":0.9862},{"t":211,"v":0.9866},{"t":213,"v":0.987},{"t":215,"v":0.9862},{"t":217,"v":0.9865},{"t":219,"v":0.986},{"t":222,"v":0.9858},{"t":225,"v":0.9848},{"t":227,"v":0.9838},{"t":230,"v":0.9845},{"t":232,"v":0.9838},{"t":235,"v":0.9848},{"t":238,"v":0.9842},{"t":241,"v":0.9835},{"t":243,"v":0.9845},{"t":246,"v":0.9842},{"t":249,"v":0.9848},{"t":252,"v":0.985},{"t":255,"v":0.9845},{"t":258,"v":0.9852},{"t":260,"v":0.986},{"t":262,"v":0.9848},{"t":265,"v":0.9843},{"t":268,"v":0.9838},{"t":271,"v":0.9845},{"t":274,"v":0.9842},{"t":277,"v":0.9838},{"t":280,"v":0.9858},{"t":282,"v":0.9845},{"t":285,"v":0.9838},{"t":288,"v":0.984},{"t":291,"v":0.9832},{"t":293,"v":0.983},{"t":295,"v":0.9803},{"t":297,"v":0.9835},{"t":299,"v":0.9882},{"t":301,"v":0.9888},{"t":304,"v":0.9892},{"t":307,"v":0.9898},{"t":309,"v":0.9902},{"t":312,"v":0.9895},{"t":315,"v":0.9888},{"t":318,"v":0.9878},{"t":320,"v":0.987},{"t":322,"v":0.9862},{"t":324,"v":0.9845},{"t":326,"v":0.9835},{"t":328,"v":0.9858},{"t":330,"v":0.9848},{"t":332,"v":0.9865},{"t":334,"v":0.9842},{"t":336,"v":0.9855},{"t":338,"v":0.9838},{"t":340,"v":0.9852},{"t":342,"v":0.9825},{"t":344,"v":0.9848},{"t":346,"v":0.9838},{"t":348,"v":0.985},{"t":350,"v":0.9832},{"t":352,"v":0.9825},{"t":354,"v":0.9845},{"t":356,"v":0.9842},{"t":358,"v":0.9835},{"t":360,"v":0.9785},{"t":362,"v":0.9828},{"t":364,"v":0.9825},{"t":366,"v":0.9822},{"t":368,"v":0.9818},{"t":370,"v":0.9825},{"t":372,"v":0.9812},{"t":374,"v":0.9835},{"t":376,"v":0.9845},{"t":378,"v":0.9838},{"t":380,"v":0.9835},{"t":382,"v":0.9848},{"t":384,"v":0.987},{"t":386,"v":0.9862},{"t":388,"v":0.9878},{"t":390,"v":0.9872},{"t":392,"v":0.9868},{"t":394,"v":0.9875},{"t":396,"v":0.9878},{"t":398,"v":0.9872},{"t":400,"v":0.988},{"t":402,"v":0.9885},{"t":404,"v":0.9887},{"t":406,"v":0.988}]},
  "layer": [
   {"mark": {"type": "line", "strokeOpacity": 0}, "encoding": {"x": {"field": "t", "type": "quantitative", "scale": {"domain": [-19, 427], "nice": false, "zero": false}, "axis": {"orient": "bottom", "values": [50,150,250,350], "grid": true, "gridWidth": 0.8, "labels": false, "ticks": false, "domain": false, "minExtent": 0, "maxExtent": 0}}, "y": {"field": "v", "type": "quantitative", "scale": {"domain": [0.97844, 0.99235], "nice": false, "zero": false}, "axis": {"orient": "left", "values": [0.9795,0.9825,0.9855,0.9885,0.9915], "grid": true, "gridWidth": 0.8, "labels": false, "ticks": false, "domain": false, "minExtent": 0, "maxExtent": 0}}}},
   {"mark": {"type": "line", "color": "#000000", "strokeWidth": 1.5}, "encoding": {"x": {"field": "t", "type": "quantitative", "scale": {"domain": [-19, 427], "nice": false, "zero": false}, "axis": {"orient": "bottom", "values": [0,100,200,300,400], "format": "d"}}, "y": {"field": "v", "type": "quantitative", "scale": {"domain": [0.97844, 0.99235], "nice": false, "zero": false}, "axis": {"orient": "left", "values": [0.981,0.984,0.987,0.99], "format": ".3f", "minExtent": 65}}}}
  ],
  "resolve": {"axis": {"x": "independent", "y": "independent"}}}
]},
{"spacing": 0, "vconcat": [
 {"width": 202, "height": 38, "view": {"fill": "#D9D9D9", "stroke": "#333333", "strokeWidth": 1.3}, "data": {"values": [{"lab": "0.8"}]}, "mark": {"type": "text", "fontSize": 18.5, "color": "#1A1A1A", "baseline": "middle"}, "encoding": {"text": {"field": "lab"}}},
 {"width": 202, "height": 158,
  "data": {"values": [{"t":2,"v":0.9909},{"t":3,"v":0.9865},{"t":5,"v":0.9885},{"t":6,"v":0.9887},{"t":8,"v":0.9872},{"t":10,"v":0.9875},{"t":11,"v":0.9864},{"t":13,"v":0.9882},{"t":15,"v":0.9928},{"t":17,"v":0.9918},{"t":19,"v":0.992},{"t":21,"v":0.9881},{"t":22,"v":0.991},{"t":24,"v":0.9929},{"t":26,"v":0.9918},{"t":28,"v":0.9915},{"t":30,"v":0.9924},{"t":32,"v":0.992},{"t":35,"v":0.9926},{"t":37,"v":0.9925},{"t":39,"v":0.992},{"t":41,"v":0.9922},{"t":43,"v":0.991},{"t":44,"v":0.9905},{"t":47,"v":0.99},{"t":49,"v":0.9898},{"t":52,"v":0.9893},{"t":54,"v":0.989},{"t":56,"v":0.9885},{"t":57,"v":0.9882},{"t":59,"v":0.9892},{"t":61,"v":0.99},{"t":63,"v":0.9915},{"t":65,"v":0.9921},{"t":68,"v":0.9924},{"t":71,"v":0.9927},{"t":74,"v":0.9924},{"t":76,"v":0.9922},{"t":78,"v":0.9924},{"t":81,"v":0.992},{"t":84,"v":0.9923},{"t":87,"v":0.9925},{"t":90,"v":0.992},{"t":92,"v":0.9924},{"t":94,"v":0.9923},{"t":97,"v":0.9915},{"t":100,"v":0.9908},{"t":102,"v":0.9905},{"t":105,"v":0.9898},{"t":107,"v":0.9902},{"t":110,"v":0.9905},{"t":113,"v":0.9903},{"t":116,"v":0.9898},{"t":118,"v":0.99},{"t":120,"v":0.9898},{"t":123,"v":0.9902},{"t":125,"v":0.9897},{"t":127,"v":0.9898},{"t":130,"v":0.9906},{"t":133,"v":0.9904},{"t":135,"v":0.9905},{"t":138,"v":0.9903},{"t":140,"v":0.9908},{"t":142,"v":0.9885},{"t":144,"v":0.9912},{"t":146,"v":0.9934},{"t":148,"v":0.991},{"t":150,"v":0.9913},{"t":153,"v":0.9912},{"t":156,"v":0.9908},{"t":158,"v":0.9905},{"t":161,"v":0.9902},{"t":164,"v":0.9906},{"t":167,"v":0.9903},{"t":170,"v":0.99},{"t":172,"v":0.9903},{"t":175,"v":0.9905},{"t":178,"v":0.9902},{"t":181,"v":0.9905},{"t":183,"v":0.9893},{"t":186,"v":0.9885},{"t":188,"v":0.988},{"t":190,"v":0.9875},{"t":192,"v":0.9868},{"t":194,"v":0.987},{"t":196,"v":0.9866},{"t":198,"v":0.9878},{"t":201,"v":0.9885},{"t":204,"v":0.9887},{"t":207,"v":0.989},{"t":210,"v":0.9893},{"t":213,"v":0.9897},{"t":216,"v":0.9901},{"t":218,"v":0.9898},{"t":221,"v":0.9897},{"t":223,"v":0.989},{"t":225,"v":0.9885},{"t":227,"v":0.9882},{"t":229,"v":0.9878},{"t":231,"v":0.9878},{"t":233,"v":0.9875},{"t":235,"v":0.988},{"t":237,"v":0.9876},{"t":239,"v":0.9882},{"t":241,"v":0.9875},{"t":243,"v":0.9872},{"t":245,"v":0.9876},{"t":247,"v":0.9879},{"t":249,"v":0.9874},{"t":251,"v":0.988},{"t":253,"v":0.9882},{"t":255,"v":0.9878},{"t":257,"v":0.9884},{"t":259,"v":0.9885},{"t":261,"v":0.9888},{"t":262,"v":0.9894},{"t":264,"v":0.9885},{"t":266,"v":0.988},{"t":268,"v":0.9875},{"t":270,"v":0.988},{"t":272,"v":0.9878},{"t":274,"v":0.9875},{"t":276,"v":0.988},{"t":278,"v":0.9872},{"t":280,"v":0.9878},{"t":282,"v":0.9888},{"t":284,"v":0.9878},{"t":286,"v":0.9865},{"t":288,"v":0.9875},{"t":290,"v":0.9872},{"t":292,"v":0.9868},{"t":294,"v":0.9873},{"t":296,"v":0.9843},{"t":298,"v":0.9888},{"t":300,"v":0.9895},{"t":302,"v":0.9905},{"t":304,"v":0.9915},{"t":306,"v":0.9922},{"t":308,"v":0.9918},{"t":310,"v":0.9912},{"t":312,"v":0.9915},{"t":314,"v":0.9908},{"t":316,"v":0.9905},{"t":318,"v":0.9902},{"t":321,"v":0.9898},{"t":323,"v":0.9902},{"t":326,"v":0.99},{"t":328,"v":0.9895},{"t":330,"v":0.9898},{"t":332,"v":0.9882},{"t":334,"v":0.9893},{"t":337,"v":0.989},{"t":340,"v":0.9888},{"t":342,"v":0.9892},{"t":344,"v":0.9888},{"t":347,"v":0.9884},{"t":349,"v":0.9885},{"t":351,"v":0.9878},{"t":353,"v":0.988},{"t":355,"v":0.9872},{"t":357,"v":0.9875},{"t":359,"v":0.9862},{"t":361,"v":0.9866},{"t":363,"v":0.9855},{"t":365,"v":0.9858},{"t":367,"v":0.9862},{"t":369,"v":0.9866},{"t":371,"v":0.9872},{"t":373,"v":0.9875},{"t":375,"v":0.9878},{"t":377,"v":0.9876},{"t":379,"v":0.988},{"t":381,"v":0.9885},{"t":383,"v":0.9892},{"t":385,"v":0.9895},{"t":387,"v":0.99},{"t":389,"v":0.9905},{"t":391,"v":0.9903},{"t":393,"v":0.9898},{"t":395,"v":0.9905},{"t":397,"v":0.9906},{"t":399,"v":0.9905},{"t":401,"v":0.9908},{"t":403,"v":0.9911},{"t":405,"v":0.9908},{"t":407,"v":0.9909}]},
  "layer": [
   {"mark": {"type": "line", "strokeOpacity": 0}, "encoding": {"x": {"field": "t", "type": "quantitative", "scale": {"domain": [-19, 427], "nice": false, "zero": false}, "axis": {"orient": "bottom", "values": [50,150,250,350], "grid": true, "gridWidth": 0.8, "labels": false, "ticks": false, "domain": false, "minExtent": 0, "maxExtent": 0}}, "y": {"field": "v", "type": "quantitative", "scale": {"domain": [0.98384, 0.99386], "nice": false, "zero": false}, "axis": {"orient": "left", "values": [0.985,0.987,0.989,0.991,0.993], "grid": true, "gridWidth": 0.8, "labels": false, "ticks": false, "domain": false, "minExtent": 0, "maxExtent": 0}}}},
   {"mark": {"type": "line", "color": "#000000", "strokeWidth": 1.5}, "encoding": {"x": {"field": "t", "type": "quantitative", "scale": {"domain": [-19, 427], "nice": false, "zero": false}, "axis": {"orient": "bottom", "values": [0,100,200,300,400], "format": "d"}}, "y": {"field": "v", "type": "quantitative", "scale": {"domain": [0.98384, 0.99386], "nice": false, "zero": false}, "axis": {"orient": "left", "values": [0.984,0.986,0.988,0.99,0.992], "format": ".3f", "minExtent": 61}}}}
  ],
  "resolve": {"axis": {"x": "independent", "y": "independent"}}}
]},
{"spacing": 0, "vconcat": [
 {"width": 202, "height": 38, "view": {"fill": "#D9D9D9", "stroke": "#333333", "strokeWidth": 1.3}, "data": {"values": [{"lab": "0.9"}]}, "mark": {"type": "text", "fontSize": 18.5, "color": "#1A1A1A", "baseline": "middle"}, "encoding": {"text": {"field": "lab"}}},
 {"width": 202, "height": 158,
  "data": {"values": [{"t":1,"v":0.9927},{"t":2,"v":0.9893},{"t":4,"v":0.9905},{"t":5,"v":0.9908},{"t":7,"v":0.99},{"t":9,"v":0.9892},{"t":11,"v":0.9905},{"t":13,"v":0.9912},{"t":15,"v":0.9943},{"t":17,"v":0.9935},{"t":18,"v":0.9938},{"t":20,"v":0.9935},{"t":22,"v":0.9918},{"t":23,"v":0.9903},{"t":24,"v":0.9925},{"t":26,"v":0.9945},{"t":28,"v":0.9938},{"t":30,"v":0.994},{"t":33,"v":0.9938},{"t":36,"v":0.9942},{"t":38,"v":0.9935},{"t":41,"v":0.9935},{"t":44,"v":0.993},{"t":46,"v":0.9925},{"t":48,"v":0.992},{"t":50,"v":0.9915},{"t":53,"v":0.991},{"t":55,"v":0.9908},{"t":57,"v":0.9912},{"t":60,"v":0.9905},{"t":62,"v":0.991},{"t":64,"v":0.9935},{"t":67,"v":0.9938},{"t":71,"v":0.9941},{"t":74,"v":0.9939},{"t":77,"v":0.9942},{"t":80,"v":0.9938},{"t":83,"v":0.994},{"t":85,"v":0.9938},{"t":88,"v":0.9941},{"t":90,"v":0.9937},{"t":92,"v":0.994},{"t":95,"v":0.9938},{"t":99,"v":0.9935},{"t":101,"v":0.993},{"t":103,"v":0.9928},{"t":106,"v":0.9925},{"t":108,"v":0.9918},{"t":110,"v":0.9922},{"t":113,"v":0.992},{"t":116,"v":0.9925},{"t":118,"v":0.992},{"t":121,"v":0.9918},{"t":123,"v":0.9922},{"t":125,"v":0.9918},{"t":128,"v":0.9923},{"t":130,"v":0.992},{"t":133,"v":0.9925},{"t":136,"v":0.992},{"t":138,"v":0.9926},{"t":140,"v":0.9924},{"t":143,"v":0.9922},{"t":145,"v":0.9913},{"t":147,"v":0.9947},{"t":149,"v":0.9932},{"t":151,"v":0.993},{"t":154,"v":0.9926},{"t":156,"v":0.9922},{"t":158,"v":0.9925},{"t":161,"v":0.9922},{"t":163,"v":0.9925},{"t":166,"v":0.9922},{"t":169,"v":0.992},{"t":171,"v":0.9918},{"t":173,"v":0.9918},{"t":176,"v":0.9921},{"t":178,"v":0.9915},{"t":180,"v":0.992},{"t":183,"v":0.9912},{"t":186,"v":0.9905},{"t":188,"v":0.9905},{"t":190,"v":0.99},{"t":192,"v":0.9898},{"t":195,"v":0.9894},{"t":197,"v":0.9905},{"t":200,"v":0.9912},{"t":203,"v":0.9913},{"t":206,"v":0.9913},{"t":208,"v":0.9915},{"t":211,"v":0.9915},{"t":213,"v":0.9918},{"t":215,"v":0.9921},{"t":217,"v":0.9921},{"t":219,"v":0.9918},{"t":221,"v":0.9912},{"t":223,"v":0.9915},{"t":225,"v":0.991},{"t":228,"v":0.9905},{"t":230,"v":0.9902},{"t":232,"v":0.9905},{"t":234,"v":0.9902},{"t":236,"v":0.99},{"t":239,"v":0.9902},{"t":241,"v":0.9905},{"t":244,"v":0.9904},{"t":247,"v":0.9905},{"t":250,"v":0.9908},{"t":252,"v":0.9906},{"t":254,"v":0.9908},{"t":257,"v":0.991},{"t":259,"v":0.9908},{"t":261,"v":0.9912},{"t":263,"v":0.9906},{"t":265,"v":0.9905},{"t":268,"v":0.9902},{"t":270,"v":0.9905},{"t":273,"v":0.9902},{"t":276,"v":0.99},{"t":278,"v":0.9903},{"t":280,"v":0.9906},{"t":282,"v":0.9904},{"t":284,"v":0.99},{"t":287,"v":0.99},{"t":289,"v":0.9898},{"t":292,"v":0.9898},{"t":294,"v":0.99},{"t":296,"v":0.988},{"t":298,"v":0.993},{"t":300,"v":0.9928},{"t":302,"v":0.9928},{"t":305,"v":0.9932},{"t":307,"v":0.9935},{"t":309,"v":0.9938},{"t":311,"v":0.9937},{"t":313,"v":0.9933},{"t":315,"v":0.993},{"t":317,"v":0.9928},{"t":319,"v":0.9925},{"t":320,"v":0.992},{"t":322,"v":0.9922},{"t":324,"v":0.992},{"t":326,"v":0.9918},{"t":328,"v":0.992},{"t":331,"v":0.9915},{"t":333,"v":0.9917},{"t":335,"v":0.9912},{"t":337,"v":0.9914},{"t":339,"v":0.991},{"t":341,"v":0.9912},{"t":343,"v":0.991},{"t":345,"v":0.9908},{"t":348,"v":0.9908},{"t":350,"v":0.9906},{"t":352,"v":0.9904},{"t":354,"v":0.9903},{"t":356,"v":0.99},{"t":357,"v":0.9898},{"t":359,"v":0.9893},{"t":361,"v":0.9888},{"t":363,"v":0.9887},{"t":365,"v":0.9889},{"t":366,"v":0.9887},{"t":368,"v":0.989},{"t":370,"v":0.9895},{"t":372,"v":0.9898},{"t":374,"v":0.99},{"t":376,"v":0.9902},{"t":378,"v":0.9904},{"t":381,"v":0.9908},{"t":383,"v":0.9912},{"t":385,"v":0.9915},{"t":388,"v":0.992},{"t":390,"v":0.9925},{"t":392,"v":0.9922},{"t":394,"v":0.9922},{"t":396,"v":0.9925},{"t":398,"v":0.9926},{"t":400,"v":0.9924},{"t":403,"v":0.993},{"t":405,"v":0.9926},{"t":407,"v":0.9927}]},
  "layer": [
   {"mark": {"type": "line", "strokeOpacity": 0}, "encoding": {"x": {"field": "t", "type": "quantitative", "scale": {"domain": [-19, 427], "nice": false, "zero": false}, "axis": {"orient": "bottom", "values": [50,150,250,350], "grid": true, "gridWidth": 0.8, "labels": false, "ticks": false, "domain": false, "minExtent": 0, "maxExtent": 0}}, "y": {"field": "v", "type": "quantitative", "scale": {"domain": [0.98755, 0.99503], "nice": false, "zero": false}, "axis": {"orient": "left", "values": [0.988,0.99,0.992,0.994], "grid": true, "gridWidth": 0.8, "labels": false, "ticks": false, "domain": false, "minExtent": 0, "maxExtent": 0}}}},
   {"mark": {"type": "line", "color": "#000000", "strokeWidth": 1.5}, "encoding": {"x": {"field": "t", "type": "quantitative", "scale": {"domain": [-19, 427], "nice": false, "zero": false}, "axis": {"orient": "bottom", "values": [0,100,200,300,400], "format": "d"}}, "y": {"field": "v", "type": "quantitative", "scale": {"domain": [0.98755, 0.99503], "nice": false, "zero": false}, "axis": {"orient": "left", "values": [0.989,0.991,0.993,0.995], "labelExpr": "substring(format(datum.value, '.3f'), 2)"}}}}
  ],
  "resolve": {"axis": {"x": "independent", "y": "independent"}}}
]},
{"spacing": 0, "vconcat": [
 {"width": 202, "height": 38, "view": {"fill": "#D9D9D9", "stroke": "#333333", "strokeWidth": 1.3}, "data": {"values": [{"lab": "HAR"}]}, "mark": {"type": "text", "fontSize": 18.5, "color": "#1A1A1A", "baseline": "middle"}, "encoding": {"text": {"field": "lab"}}},
 {"width": 202, "height": 158,
  "data": {"values": [{"t":1,"v":0.57},{"t":3,"v":0.572},{"t":5,"v":0.58},{"t":6,"v":0.545},{"t":8,"v":0.56},{"t":10,"v":0.54},{"t":11,"v":0.53},{"t":13,"v":0.59},{"t":15,"v":0.595},{"t":16,"v":0.6},{"t":19,"v":0.595},{"t":22,"v":0.59},{"t":24,"v":0.575},{"t":26,"v":0.565},{"t":28,"v":0.56},{"t":29,"v":0.54},{"t":31,"v":0.55},{"t":33,"v":0.555},{"t":36,"v":0.553},{"t":38,"v":0.555},{"t":40,"v":0.555},{"t":42,"v":0.565},{"t":44,"v":0.54},{"t":46,"v":0.525},{"t":49,"v":0.525},{"t":52,"v":0.52},{"t":55,"v":0.52},{"t":57,"v":0.51},{"t":59,"v":0.505},{"t":62,"v":0.515},{"t":65,"v":0.51},{"t":67,"v":0.505},{"t":70,"v":0.5},{"t":72,"v":0.505},{"t":75,"v":0.495},{"t":77,"v":0.49},{"t":79,"v":0.475},{"t":81,"v":0.49},{"t":84,"v":0.49},{"t":87,"v":0.487},{"t":90,"v":0.485},{"t":92,"v":0.485},{"t":95,"v":0.478},{"t":97,"v":0.472},{"t":99,"v":0.47},{"t":101,"v":0.465},{"t":103,"v":0.46},{"t":106,"v":0.463},{"t":110,"v":0.46},{"t":113,"v":0.458},{"t":117,"v":0.457},{"t":121,"v":0.455},{"t":125,"v":0.46},{"t":128,"v":0.465},{"t":131,"v":0.47},{"t":133,"v":0.475},{"t":136,"v":0.468},{"t":139,"v":0.47},{"t":141,"v":0.48},{"t":143,"v":0.48},{"t":145,"v":0.465},{"t":147,"v":0.43},{"t":149,"v":0.4},{"t":150,"v":0.385},{"t":153,"v":0.38},{"t":156,"v":0.375},{"t":158,"v":0.375},{"t":161,"v":0.38},{"t":163,"v":0.378},{"t":165,"v":0.385},{"t":167,"v":0.395},{"t":169,"v":0.405},{"t":171,"v":0.39},{"t":172,"v":0.38},{"t":174,"v":0.365},{"t":176,"v":0.36},{"t":178,"v":0.35},{"t":180,"v":0.345},{"t":182,"v":0.36},{"t":183,"v":0.375},{"t":185,"v":0.385},{"t":187,"v":0.39},{"t":189,"v":0.375},{"t":191,"v":0.36},{"t":193,"v":0.345},{"t":194,"v":0.335},{"t":196,"v":0.355},{"t":198,"v":0.37},{"t":200,"v":0.38},{"t":202,"v":0.38},{"t":205,"v":0.378},{"t":207,"v":0.38},{"t":209,"v":0.395},{"t":211,"v":0.42},{"t":213,"v":0.41},{"t":216,"v":0.4},{"t":219,"v":0.402},{"t":222,"v":0.405},{"t":225,"v":0.408},{"t":228,"v":0.41},{"t":231,"v":0.412},{"t":234,"v":0.415},{"t":237,"v":0.418},{"t":239,"v":0.42},{"t":242,"v":0.418},{"t":244,"v":0.415},{"t":246,"v":0.415},{"t":248,"v":0.41},{"t":250,"v":0.4},{"t":252,"v":0.39},{"t":255,"v":0.375},{"t":257,"v":0.38},{"t":259,"v":0.39},{"t":261,"v":0.395},{"t":264,"v":0.39},{"t":266,"v":0.39},{"t":268,"v":0.385},{"t":270,"v":0.395},{"t":273,"v":0.41},{"t":275,"v":0.42},{"t":278,"v":0.425},{"t":281,"v":0.425},{"t":283,"v":0.425},{"t":286,"v":0.42},{"t":288,"v":0.42},{"t":290,"v":0.42},{"t":292,"v":0.44},{"t":294,"v":0.46},{"t":296,"v":0.48},{"t":297,"v":0.5},{"t":299,"v":0.515},{"t":301,"v":0.52},{"t":304,"v":0.525},{"t":307,"v":0.53},{"t":309,"v":0.54},{"t":312,"v":0.55},{"t":314,"v":0.565},{"t":316,"v":0.575},{"t":318,"v":0.59},{"t":320,"v":0.585},{"t":323,"v":0.58},{"t":326,"v":0.575},{"t":328,"v":0.578},{"t":330,"v":0.575},{"t":333,"v":0.57},{"t":335,"v":0.565},{"t":337,"v":0.565},{"t":340,"v":0.56},{"t":342,"v":0.555},{"t":345,"v":0.55},{"t":347,"v":0.545},{"t":350,"v":0.54},{"t":352,"v":0.535},{"t":354,"v":0.525},{"t":356,"v":0.51},{"t":358,"v":0.495},{"t":359,"v":0.49},{"t":361,"v":0.475},{"t":363,"v":0.465},{"t":365,"v":0.48},{"t":367,"v":0.48},{"t":369,"v":0.475},{"t":371,"v":0.47},{"t":374,"v":0.47},{"t":376,"v":0.465},{"t":378,"v":0.465},{"t":380,"v":0.47},{"t":382,"v":0.48},{"t":384,"v":0.495},{"t":385,"v":0.51},{"t":387,"v":0.52},{"t":390,"v":0.53},{"t":392,"v":0.535},{"t":394,"v":0.54},{"t":397,"v":0.54},{"t":400,"v":0.54},{"t":402,"v":0.545},{"t":404,"v":0.55}]},
  "layer": [
   {"mark": {"type": "line", "strokeOpacity": 0}, "encoding": {"x": {"field": "t", "type": "quantitative", "scale": {"domain": [-19, 427], "nice": false, "zero": false}, "axis": {"orient": "bottom", "values": [50,150,250,350], "grid": true, "gridWidth": 0.8, "labels": false, "ticks": false, "domain": false, "minExtent": 0, "maxExtent": 0}}, "y": {"field": "v", "type": "quantitative", "scale": {"domain": [0.3247, 0.6108], "nice": false, "zero": false}, "axis": {"orient": "left", "values": [0.35,0.45,0.55], "grid": true, "gridWidth": 0.8, "labels": false, "ticks": false, "domain": false, "minExtent": 0, "maxExtent": 0}}}},
   {"mark": {"type": "line", "color": "#000000", "strokeWidth": 1.5}, "encoding": {"x": {"field": "t", "type": "quantitative", "scale": {"domain": [-19, 427], "nice": false, "zero": false}, "axis": {"orient": "bottom", "values": [0,100,200,300,400], "format": "d"}}, "y": {"field": "v", "type": "quantitative", "scale": {"domain": [0.3247, 0.6108], "nice": false, "zero": false}, "axis": {"orient": "left", "values": [0.4,0.5,0.6], "format": ".1f"}}}}
  ],
  "resolve": {"axis": {"x": "independent", "y": "independent"}}}
]},
{"spacing": 0, "vconcat": [
 {"width": 202, "height": 38, "view": {"fill": "#D9D9D9", "stroke": "#333333", "strokeWidth": 1.3}, "data": {"values": [{"lab": "LASSO"}]}, "mark": {"type": "text", "fontSize": 18.5, "color": "#1A1A1A", "baseline": "middle"}, "encoding": {"text": {"field": "lab"}}},
 {"width": 202, "height": 158,
  "data": {"values": [{"t":1,"v":0.994},{"t":2,"v":0.9926},{"t":3,"v":0.9915},{"t":4,"v":0.9913},{"t":5,"v":0.9918},{"t":7,"v":0.9925},{"t":8,"v":0.9915},{"t":10,"v":0.992},{"t":11,"v":0.9947},{"t":13,"v":0.9945},{"t":15,"v":0.9953},{"t":17,"v":0.994},{"t":18,"v":0.9945},{"t":20,"v":0.9935},{"t":21,"v":0.992},{"t":22,"v":0.994},{"t":24,"v":0.9955},{"t":26,"v":0.9948},{"t":28,"v":0.995},{"t":30,"v":0.9945},{"t":32,"v":0.995},{"t":34,"v":0.9946},{"t":36,"v":0.9948},{"t":38,"v":0.9945},{"t":40,"v":0.995},{"t":43,"v":0.9948},{"t":45,"v":0.994},{"t":46,"v":0.9932},{"t":48,"v":0.9928},{"t":50,"v":0.9925},{"t":52,"v":0.9927},{"t":54,"v":0.9925},{"t":55,"v":0.992},{"t":57,"v":0.9922},{"t":59,"v":0.9935},{"t":61,"v":0.9946},{"t":64,"v":0.9948},{"t":67,"v":0.9948},{"t":70,"v":0.995},{"t":72,"v":0.9952},{"t":75,"v":0.995},{"t":78,"v":0.9948},{"t":80,"v":0.995},{"t":83,"v":0.9948},{"t":85,"v":0.9951},{"t":87,"v":0.9949},{"t":90,"v":0.9952},{"t":92,"v":0.995},{"t":94,"v":0.995},{"t":96,"v":0.9947},{"t":98,"v":0.9945},{"t":100,"v":0.994},{"t":102,"v":0.9938},{"t":104,"v":0.9938},{"t":106,"v":0.9935},{"t":109,"v":0.9933},{"t":111,"v":0.9936},{"t":113,"v":0.9935},{"t":116,"v":0.9932},{"t":118,"v":0.9934},{"t":120,"v":0.9934},{"t":122,"v":0.9933},{"t":125,"v":0.9936},{"t":127,"v":0.9935},{"t":129,"v":0.9938},{"t":131,"v":0.9934},{"t":133,"v":0.9938},{"t":135,"v":0.9936},{"t":137,"v":0.9938},{"t":139,"v":0.9935},{"t":141,"v":0.993},{"t":143,"v":0.9955},{"t":144,"v":0.9955},{"t":146,"v":0.9945},{"t":148,"v":0.9943},{"t":150,"v":0.994},{"t":153,"v":0.9938},{"t":155,"v":0.9939},{"t":157,"v":0.9937},{"t":160,"v":0.9937},{"t":162,"v":0.9935},{"t":165,"v":0.9937},{"t":168,"v":0.9936},{"t":170,"v":0.9935},{"t":173,"v":0.9933},{"t":175,"v":0.9934},{"t":177,"v":0.9932},{"t":180,"v":0.9932},{"t":182,"v":0.993},{"t":184,"v":0.9926},{"t":186,"v":0.9925},{"t":188,"v":0.9922},{"t":190,"v":0.992},{"t":192,"v":0.9916},{"t":194,"v":0.9914},{"t":196,"v":0.992},{"t":198,"v":0.9925},{"t":200,"v":0.9928},{"t":202,"v":0.9929},{"t":205,"v":0.993},{"t":208,"v":0.9932},{"t":210,"v":0.9932},{"t":212,"v":0.9935},{"t":214,"v":0.9937},{"t":216,"v":0.9935},{"t":218,"v":0.9932},{"t":220,"v":0.9928},{"t":223,"v":0.9925},{"t":225,"v":0.9922},{"t":227,"v":0.992},{"t":229,"v":0.9923},{"t":232,"v":0.9924},{"t":234,"v":0.9921},{"t":236,"v":0.9923},{"t":238,"v":0.9922},{"t":240,"v":0.9925},{"t":242,"v":0.9922},{"t":244,"v":0.9924},{"t":246,"v":0.9925},{"t":248,"v":0.9926},{"t":250,"v":0.9924},{"t":252,"v":0.9925},{"t":254,"v":0.9925},{"t":257,"v":0.9927},{"t":260,"v":0.993},{"t":262,"v":0.9924},{"t":264,"v":0.9922},{"t":267,"v":0.992},{"t":269,"v":0.992},{"t":272,"v":0.9918},{"t":275,"v":0.9918},{"t":277,"v":0.9921},{"t":279,"v":0.9924},{"t":281,"v":0.9929},{"t":283,"v":0.9924},{"t":286,"v":0.9921},{"t":288,"v":0.9918},{"t":290,"v":0.9918},{"t":292,"v":0.9915},{"t":294,"v":0.9907},{"t":296,"v":0.9925},{"t":297,"v":0.9935},{"t":299,"v":0.9938},{"t":301,"v":0.994},{"t":303,"v":0.9942},{"t":306,"v":0.9948},{"t":308,"v":0.9947},{"t":310,"v":0.9945},{"t":312,"v":0.9942},{"t":315,"v":0.994},{"t":317,"v":0.9937},{"t":319,"v":0.9935},{"t":321,"v":0.9932},{"t":324,"v":0.9932},{"t":327,"v":0.9934},{"t":330,"v":0.9934},{"t":332,"v":0.993},{"t":335,"v":0.9928},{"t":338,"v":0.9927},{"t":341,"v":0.9926},{"t":344,"v":0.9925},{"t":347,"v":0.9925},{"t":350,"v":0.9923},{"t":352,"v":0.9922},{"t":354,"v":0.992},{"t":356,"v":0.9918},{"t":358,"v":0.9915},{"t":359,"v":0.9912},{"t":361,"v":0.9911},{"t":363,"v":0.991},{"t":365,"v":0.9911},{"t":367,"v":0.9913},{"t":369,"v":0.9917},{"t":371,"v":0.992},{"t":373,"v":0.9921},{"t":375,"v":0.9922},{"t":377,"v":0.9924},{"t":379,"v":0.9925},{"t":381,"v":0.9928},{"t":384,"v":0.9932},{"t":386,"v":0.9935},{"t":389,"v":0.9938},{"t":391,"v":0.9939},{"t":394,"v":0.994},{"t":396,"v":0.9939},{"t":398,"v":0.9941},{"t":401,"v":0.9942},{"t":403,"v":0.9943},{"t":405,"v":0.9941},{"t":407,"v":0.9942}]},
  "layer": [
   {"mark": {"type": "line", "strokeOpacity": 0}, "encoding": {"x": {"field": "t", "type": "quantitative", "scale": {"domain": [-19, 427], "nice": false, "zero": false}, "axis": {"orient": "bottom", "values": [50,150,250,350], "grid": true, "gridWidth": 0.8, "labels": false, "ticks": false, "domain": false, "minExtent": 0, "maxExtent": 0}}, "y": {"field": "v", "type": "quantitative", "scale": {"domain": [0.99037, 0.99578], "nice": false, "zero": false}, "axis": {"orient": "left", "values": [0.9905,0.9915,0.9925,0.9935,0.9945,0.9955], "grid": true, "gridWidth": 0.8, "labels": false, "ticks": false, "domain": false, "minExtent": 0, "maxExtent": 0}}}},
   {"mark": {"type": "line", "color": "#000000", "strokeWidth": 1.5}, "encoding": {"x": {"field": "t", "type": "quantitative", "scale": {"domain": [-19, 427], "nice": false, "zero": false}, "axis": {"orient": "bottom", "values": [0,100,200,300,400], "format": "d"}}, "y": {"field": "v", "type": "quantitative", "scale": {"domain": [0.99037, 0.99578], "nice": false, "zero": false}, "axis": {"orient": "left", "values": [0.991,0.992,0.993,0.994,0.995], "format": ".3f", "minExtent": 65}}}}
  ],
  "resolve": {"axis": {"x": "independent", "y": "independent"}}}
]},
{"spacing": 0, "vconcat": [
 {"width": 202, "height": 38, "view": {"fill": "#D9D9D9", "stroke": "#333333", "strokeWidth": 1.3}, "data": {"values": [{"lab": "RIDGE"}]}, "mark": {"type": "text", "fontSize": 18.5, "color": "#1A1A1A", "baseline": "middle"}, "encoding": {"text": {"field": "lab"}}},
 {"width": 202, "height": 158,
  "data": {"values": [{"t":2,"v":0.894},{"t":4,"v":0.889},{"t":6,"v":0.893},{"t":7,"v":0.891},{"t":9,"v":0.888},{"t":12,"v":0.887},{"t":14,"v":0.889},{"t":17,"v":0.885},{"t":19,"v":0.902},{"t":20,"v":0.862},{"t":22,"v":0.911},{"t":24,"v":0.9},{"t":27,"v":0.895},{"t":29,"v":0.89},{"t":32,"v":0.892},{"t":34,"v":0.898},{"t":37,"v":0.9},{"t":39,"v":0.897},{"t":41,"v":0.905},{"t":43,"v":0.899},{"t":44,"v":0.889},{"t":46,"v":0.9},{"t":48,"v":0.905},{"t":50,"v":0.91},{"t":52,"v":0.908},{"t":54,"v":0.905},{"t":56,"v":0.908},{"t":59,"v":0.903},{"t":61,"v":0.88},{"t":63,"v":0.897},{"t":65,"v":0.9},{"t":68,"v":0.902},{"t":70,"v":0.898},{"t":72,"v":0.902},{"t":75,"v":0.905},{"t":78,"v":0.905},{"t":81,"v":0.92},{"t":83,"v":0.918},{"t":85,"v":0.922},{"t":88,"v":0.903},{"t":90,"v":0.914},{"t":92,"v":0.916},{"t":94,"v":0.916},{"t":97,"v":0.918},{"t":100,"v":0.919},{"t":102,"v":0.918},{"t":104,"v":0.912},{"t":106,"v":0.916},{"t":109,"v":0.915},{"t":112,"v":0.917},{"t":114,"v":0.918},{"t":116,"v":0.917},{"t":118,"v":0.91},{"t":120,"v":0.912},{"t":122,"v":0.918},{"t":125,"v":0.918},{"t":127,"v":0.919},{"t":130,"v":0.917},{"t":133,"v":0.919},{"t":135,"v":0.919},{"t":138,"v":0.918},{"t":140,"v":0.917},{"t":141,"v":0.915},{"t":142,"v":0.827},{"t":143,"v":0.87},{"t":144,"v":0.898},{"t":146,"v":0.897},{"t":148,"v":0.895},{"t":150,"v":0.893},{"t":152,"v":0.89},{"t":153,"v":0.889},{"t":155,"v":0.887},{"t":157,"v":0.885},{"t":159,"v":0.882},{"t":161,"v":0.888},{"t":164,"v":0.885},{"t":166,"v":0.881},{"t":168,"v":0.879},{"t":169,"v":0.878},{"t":171,"v":0.875},{"t":174,"v":0.873},{"t":176,"v":0.878},{"t":179,"v":0.88},{"t":181,"v":0.881},{"t":184,"v":0.883},{"t":187,"v":0.89},{"t":190,"v":0.893},{"t":192,"v":0.888},{"t":194,"v":0.887},{"t":196,"v":0.89},{"t":199,"v":0.897},{"t":201,"v":0.903},{"t":203,"v":0.905},{"t":205,"v":0.91},{"t":207,"v":0.915},{"t":210,"v":0.913},{"t":212,"v":0.912},{"t":214,"v":0.911},{"t":216,"v":0.892},{"t":218,"v":0.905},{"t":220,"v":0.911},{"t":223,"v":0.912},{"t":227,"v":0.914},{"t":230,"v":0.915},{"t":233,"v":0.918},{"t":236,"v":0.916},{"t":238,"v":0.914},{"t":240,"v":0.913},{"t":243,"v":0.91},{"t":245,"v":0.907},{"t":248,"v":0.91},{"t":250,"v":0.912},{"t":253,"v":0.912},{"t":256,"v":0.908},{"t":258,"v":0.911},{"t":260,"v":0.911},{"t":263,"v":0.912},{"t":265,"v":0.909},{"t":267,"v":0.91},{"t":270,"v":0.912},{"t":272,"v":0.909},{"t":275,"v":0.913},{"t":277,"v":0.91},{"t":280,"v":0.912},{"t":282,"v":0.91},{"t":285,"v":0.908},{"t":287,"v":0.912},{"t":289,"v":0.911},{"t":291,"v":0.905},{"t":293,"v":0.902},{"t":295,"v":0.895},{"t":297,"v":0.902},{"t":299,"v":0.906},{"t":301,"v":0.904},{"t":303,"v":0.899},{"t":305,"v":0.905},{"t":308,"v":0.913},{"t":310,"v":0.915},{"t":312,"v":0.916},{"t":315,"v":0.918},{"t":318,"v":0.921},{"t":321,"v":0.925},{"t":323,"v":0.922},{"t":326,"v":0.923},{"t":329,"v":0.922},{"t":331,"v":0.918},{"t":334,"v":0.92},{"t":336,"v":0.924},{"t":339,"v":0.926},{"t":341,"v":0.924},{"t":343,"v":0.922},{"t":345,"v":0.924},{"t":347,"v":0.927},{"t":349,"v":0.93},{"t":351,"v":0.933},{"t":353,"v":0.932},{"t":354,"v":0.93},{"t":356,"v":0.915},{"t":358,"v":0.906},{"t":360,"v":0.915},{"t":361,"v":0.921},{"t":363,"v":0.918},{"t":365,"v":0.92},{"t":367,"v":0.915},{"t":369,"v":0.913},{"t":371,"v":0.916},{"t":373,"v":0.913},{"t":375,"v":0.915},{"t":378,"v":0.918},{"t":380,"v":0.916},{"t":383,"v":0.921},{"t":385,"v":0.92},{"t":387,"v":0.925},{"t":389,"v":0.923},{"t":391,"v":0.922},{"t":393,"v":0.922},{"t":395,"v":0.924},{"t":398,"v":0.923},{"t":400,"v":0.921},{"t":402,"v":0.923},{"t":404,"v":0.922},{"t":406,"v":0.921}]},
  "layer": [
   {"mark": {"type": "line", "strokeOpacity": 0}, "encoding": {"x": {"field": "t", "type": "quantitative", "scale": {"domain": [-19, 427], "nice": false, "zero": false}, "axis": {"orient": "bottom", "values": [50,150,250,350], "grid": true, "gridWidth": 0.8, "labels": false, "ticks": false, "domain": false, "minExtent": 0, "maxExtent": 0}}, "y": {"field": "v", "type": "quantitative", "scale": {"domain": [0.8211, 0.9374], "nice": false, "zero": false}, "axis": {"orient": "left", "values": [0.83,0.85,0.87,0.89,0.91,0.93], "grid": true, "gridWidth": 0.8, "labels": false, "ticks": false, "domain": false, "minExtent": 0, "maxExtent": 0}}}},
   {"mark": {"type": "line", "color": "#000000", "strokeWidth": 1.5}, "encoding": {"x": {"field": "t", "type": "quantitative", "scale": {"domain": [-19, 427], "nice": false, "zero": false}, "axis": {"orient": "bottom", "values": [0,100,200,300,400], "format": "d"}}, "y": {"field": "v", "type": "quantitative", "scale": {"domain": [0.8211, 0.9374], "nice": false, "zero": false}, "axis": {"orient": "left", "values": [0.84,0.86,0.88,0.9,0.92], "format": ".2f", "minExtent": 61}}}}
  ],
  "resolve": {"axis": {"x": "independent", "y": "independent"}}}
]}
],
"config": {
 "font": "Liberation Sans",
 "view": {"stroke": "#333333", "strokeWidth": 1.3},
 "axis": {"title": null, "domain": false, "labelFont": "Liberation Sans", "labelFontSize": 18.5, "labelColor": "#4D4D4D", "tickColor": "#333333", "tickSize": 6, "tickWidth": 1.3, "labelPadding": 5, "grid": true, "gridColor": "#EBEBEB", "gridWidth": 1.6, "labelFlush": false, "labelOverlap": false, "labelBound": false},
 "text": {"font": "Liberation Sans"}
}
}
